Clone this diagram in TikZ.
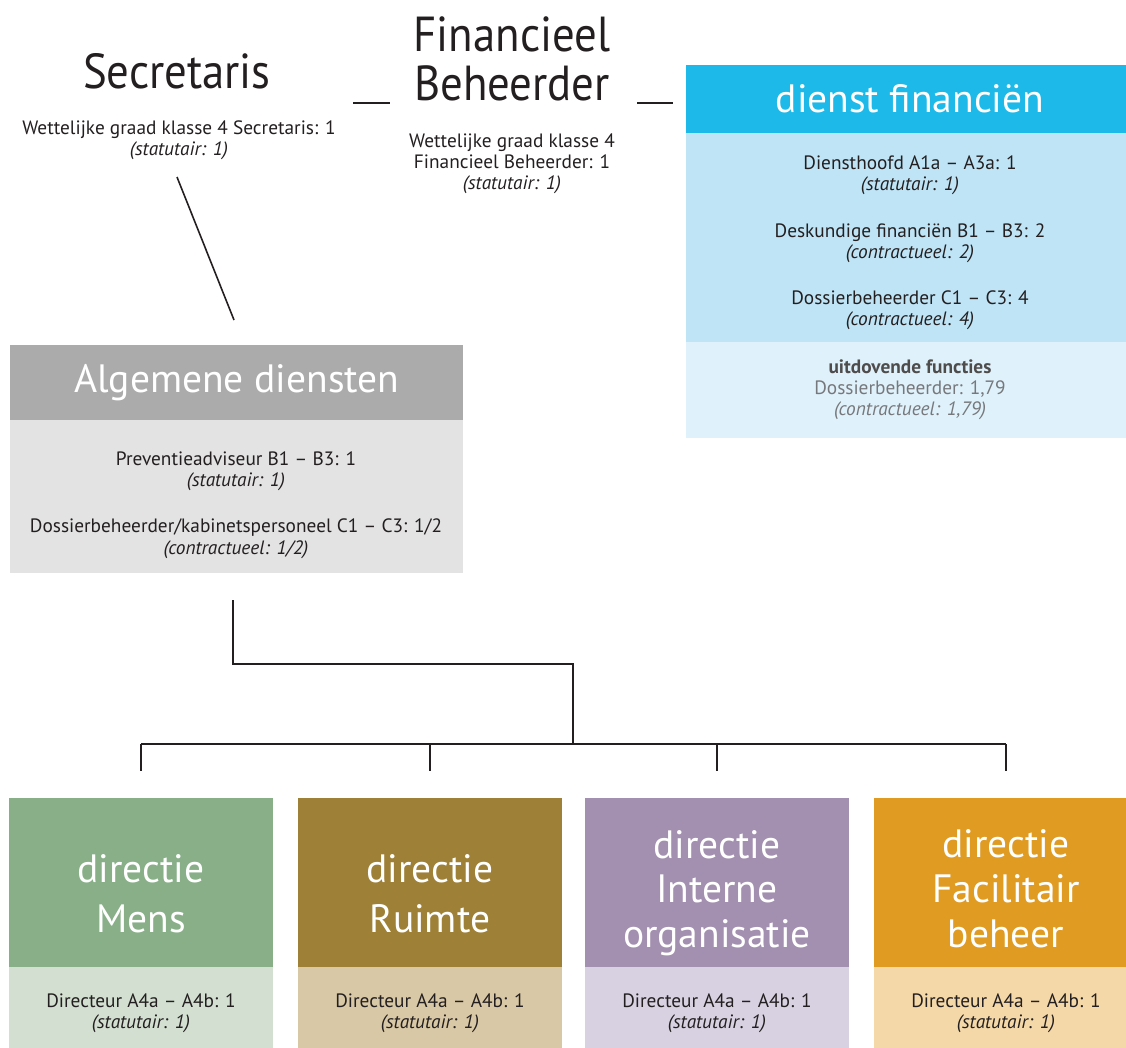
\documentclass[tikz,border=0pt]{standalone}
\usepackage{fontspec}
\setmainfont{PT Sans}
\newfontfamily\titelfamilie{PT Sans}[FakeStretch=0.91]
\usepackage{tikz}
\usetikzlibrary{positioning}

\definecolor{tekst}{HTML}{231F20}
\definecolor{grijstekst}{HTML}{77787B}
\definecolor{algkop}{HTML}{ABABAB}
\definecolor{algvak}{HTML}{E3E3E3}
\definecolor{finkop}{HTML}{1DB9E9}
\definecolor{finvak}{HTML}{BFE4F6}
\definecolor{finoud}{HTML}{DFF1FB}
\definecolor{menskop}{HTML}{88AF88}
\definecolor{mensvak}{HTML}{D3E0D1}
\definecolor{ruimkop}{HTML}{9E8036}
\definecolor{ruimvak}{HTML}{D9C8A6}
\definecolor{intkop}{HTML}{A38FAF}
\definecolor{intvak}{HTML}{D8D1E1}
\definecolor{fackop}{HTML}{DF9B22}
\definecolor{facvak}{HTML}{F4D8A8}

\newcommand{\kleinfont}{\fontsize{11}{12}\selectfont}
\newcommand{\titelfont}{\titelfamilie\fontsize{28}{27.8}\selectfont}
\newcommand{\kopfont}{\fontsize{22.5}{25.5}\selectfont}
\newcommand{\kopruimfont}{\fontsize{22.5}{28.3}\selectfont}

\begin{document}
\begin{tikzpicture}[x=0.02cm, y=-0.02cm,
    vlak/.style={anchor=north west, inner sep=0pt},
    kop/.style={inner sep=0pt, text=white, align=center, font=\kopfont},
    titel/.style={inner sep=0pt, align=center, text=tekst, font=\titelfont},
    klein/.style={inner sep=0pt, align=center, text=tekst, font=\kleinfont},
    lijn/.style={draw=tekst, line width=0.9pt}]

    \useasboundingbox (0,0) rectangle (1126,1048);
    \clip (0,0) rectangle (1126,1048);

    % bovenaan
    \node[titel, anchor=base] (secr) at (177,88) {Secretaris};
    \node[klein] (secrT) at (179,140) {Wettelijke graad klasse 4 Secretaris: 1\\\textit{(statutair: 1)}};

    \node[titel] (finb) at (512,59) {Financieel\\Beheerder};
    \node[klein] (finbT) at (512,164) {Wettelijke graad klasse 4\\Financieel Beheerder: 1\\\textit{(statutair: 1)}};

    \coordinate (d1a) at (353,103);
    \coordinate (d1b) at (390,103);
    \coordinate (d2a) at (637,103);
    \coordinate (d2b) at (673,103);
    \draw[lijn] (d1a) -- (d1b);
    \draw[lijn] (d2a) -- (d2b);

    % dienst financien
    \node[vlak, fill=finkop, minimum width=8.8cm, minimum height=1.36cm] (finK) at (686,65) {};
    \node[vlak, fill=finvak, minimum width=8.8cm, minimum height=4.18cm] (finV) at (686,133) {};
    \node[vlak, fill=finoud, minimum width=8.8cm, minimum height=1.92cm] (finO) at (686,342) {};
    \node[kop] (finKt) at (910,99) {dienst financiën};
    \node[klein] (finVt) at (910,243)
        {Diensthoofd A1a – A3a: 1\\\textit{(statutair: 1)}\\[14.4pt]
         Deskundige financiën B1 – B3: 2\\\textit{(contractueel: 2)}\\[14.4pt]
         Dossierbeheerder C1 – C3: 4\\\textit{(contractueel: 4)}};
    \node[klein, text=grijstekst] (finOt) at (910,390)
        {\textbf{\color{tekst!80}uitdovende functies}\\Dossierbeheerder: 1,79\\\textit{(contractueel: 1,79)}};

    % algemene diensten
    \node[vlak, fill=algkop, minimum width=9.06cm, minimum height=1.5cm] (algK) at (10,345) {};
    \node[vlak, fill=algvak, minimum width=9.06cm, minimum height=3.06cm] (algV) at (10,420) {};
    \node[kop] (algKt) at (algK.center) {Algemene diensten};
    \node[klein] (algVt) at (236,505)
        {Preventieadviseur B1 – B3: 1\\\textit{(statutair: 1)}\\[14.4pt]
         Dossierbeheerder/kabinetspersoneel C1 – C3: 1/2\\\textit{(contractueel: 1/2)}};

    \coordinate (s1) at (177,177);
    \coordinate (s2) at (234,320);
    \draw[lijn] (s1) -- (s2);

    % directies
    \node[vlak, fill=menskop, minimum width=5.28cm, minimum height=3.38cm] (mensK) at (9,798) {};
    \node[vlak, fill=ruimkop, minimum width=5.28cm, minimum height=3.38cm] (ruimK) at (298,798) {};
    \node[vlak, fill=intkop, minimum width=5.28cm, minimum height=3.38cm] (intK) at (585,798) {};
    \node[vlak, fill=fackop, minimum width=5.28cm, minimum height=3.38cm] (facK) at (874,798) {};

    \node[vlak, fill=mensvak, minimum width=5.28cm, minimum height=1.9cm] (mensV) at (9,967) {};
    \node[vlak, fill=ruimvak, minimum width=5.28cm, minimum height=1.9cm] (ruimV) at (298,967) {};
    \node[vlak, fill=intvak, minimum width=5.28cm, minimum height=1.9cm] (intV) at (585,967) {};
    \node[vlak, fill=facvak, minimum width=5.28cm, minimum height=1.9cm] (facV) at (874,967) {};

    \node[kop, font=\kopruimfont] (mensKt) at (141,894) {directie\\Mens};
    \node[kop, font=\kopruimfont] (ruimKt) at (430,894) {directie\\Ruimte};
    \node[kop] (intKt) at (717,893) {directie\\Interne\\organisatie};
    \node[kop] (facKt) at (1006,889) {directie\\Facilitair\\beheer};

    \node[klein] (mensVt) at (141,1013) {Directeur A4a – A4b: 1\\\textit{(statutair: 1)}};
    \node[klein] (ruimVt) at (430,1013) {Directeur A4a – A4b: 1\\\textit{(statutair: 1)}};
    \node[klein] (intVt) at (717,1013) {Directeur A4a – A4b: 1\\\textit{(statutair: 1)}};
    \node[klein] (facVt) at (1006,1013) {Directeur A4a – A4b: 1\\\textit{(statutair: 1)}};

    % verbindingen
    \coordinate (a1) at (233,600);
    \coordinate (a2) at (573,664);
    \coordinate (a3) at (573,744);
    \draw[lijn] (a1) |- (a2) -- (a3);
    \coordinate (t1) at (141,744);
    \coordinate (t2) at (430,744);
    \coordinate (t3) at (717,744);
    \coordinate (t4) at (1006,744);
    \draw[lijn] (t1) -- (t4);
    \foreach \t in {t1,t2,t3,t4}
        \draw[lijn] (\t) -- ++(0,27);
\end{tikzpicture}
\end{document}
